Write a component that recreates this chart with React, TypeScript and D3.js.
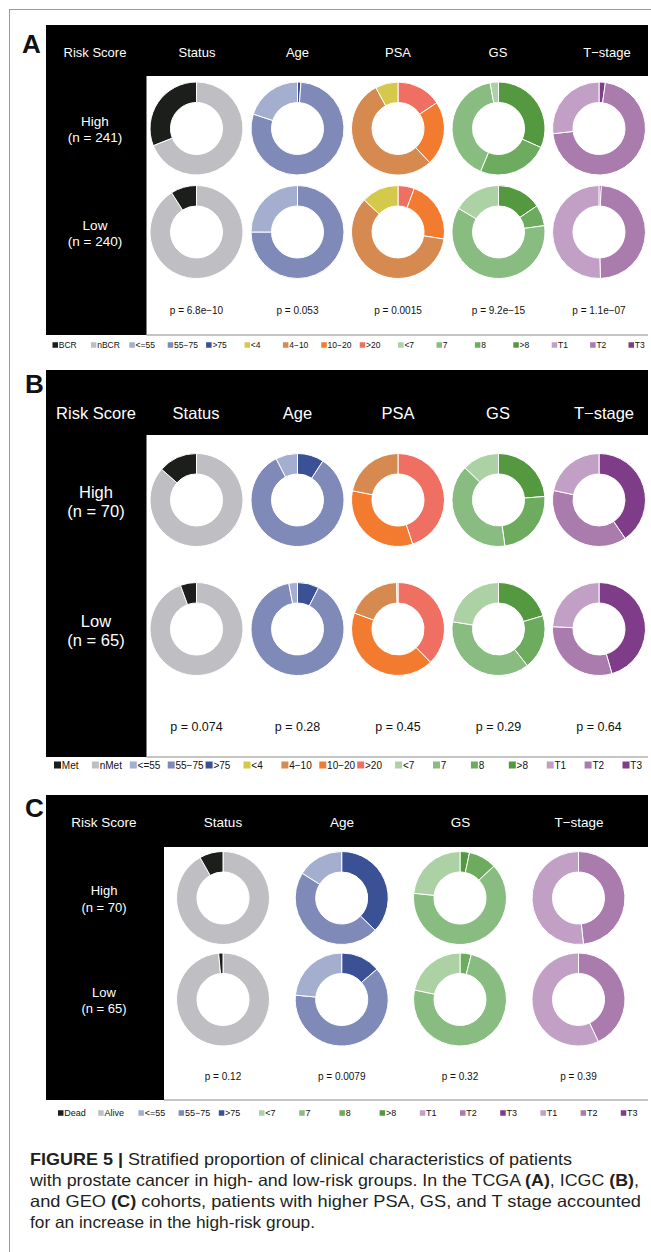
import React from "react";
import * as d3 from "d3";

// ---------- data ----------
const statusColors = ["#1c1e1b", "#bfbfc3"];
const ageColors = ["#a4aece", "#7f8ab8", "#3b5196"];
const psaColors = ["#d5c94b", "#d78a50", "#f27b30", "#ef6f63"];
const gsColors = ["#acd1a4", "#88bc80", "#6dab5e", "#54993f"];
const tColors = ["#c2a0c6", "#aa7bad", "#7f3c88"];

const headersAB = ["Risk Score", "Status", "Age", "PSA", "GS", "T\u2212stage"];
const headersC = ["Risk Score", "Status", "Age", "GS", "T\u2212stage"];

const legendA = ["BCR", "nBCR", "<=55", "55\u221275", ">75", "<4", "4\u221210", "10\u221220", ">20", "<7", "7", "8", ">8", "T1", "T2", "T3"];
const legendB = ["Met", "nMet", "<=55", "55\u221275", ">75", "<4", "4\u221210", "10\u221220", ">20", "<7", "7", "8", ">8", "T1", "T2", "T3"];
const legendC = ["Dead", "Alive", "<=55", "55\u221275", ">75", "<7", "7", "8", ">8", "T1", "T2", "T3", "T1", "T2", "T3"];

// proportions in level order (status, age, psa, gs, t-stage)
const tcgaHigh = [[0.31, 0.69], [0.2, 0.788, 0.012], [0.079, 0.54, 0.224, 0.157], [0.029, 0.408, 0.246, 0.317], [0.268, 0.71, 0.022]];
const tcgaLow = [[0.09, 0.91], [0.25, 0.75, 0], [0.129, 0.597, 0.217, 0.057], [0.165, 0.607, 0.073, 0.155], [0.505, 0.487, 0.008]];
const icgcHigh = [[0.135, 0.865], [0.076, 0.832, 0.092], [0, 0.218, 0.333, 0.449], [0.128, 0.394, 0.24, 0.238], [0.217, 0.378, 0.405]];
const icgcLow = [[0.056, 0.944], [0.03, 0.895, 0.075], [0.005, 0.189, 0.429, 0.377], [0.225, 0.381, 0.19, 0.204], [0.242, 0.303, 0.455]];
const geoHigh = [[0.082, 0.918], [0.161, 0.467, 0.372], [0.234, 0.637, 0.097, 0.033], [0.517, 0.483, 0]];
const geoLow = [[0.015, 0.985], [0.235, 0.628, 0.137], [0.217, 0.744, 0.039, 0], [0.57, 0.43, 0]];

const tcgaP = ["p = 6.8e\u221210", "p = 0.053", "p = 0.0015", "p = 9.2e\u221215", "p = 1.1e\u221207"];
const icgcP = ["p = 0.074", "p = 0.28", "p = 0.45", "p = 0.29", "p = 0.64"];
const geoP = ["p = 0.12", "p = 0.0079", "p = 0.32", "p = 0.39"];

const tcgaN = ["241", "240"];
const icgcN = ["70", "65"];
const geoN = ["70", "65"];

const colorsAB = [statusColors, ageColors, psaColors, gsColors, tColors];
const colorsC = [statusColors, ageColors, gsColors, tColors];

const FONT = "'Liberation Sans', Arial, Helvetica, sans-serif";

// ---------- components ----------
const pie = d3.pie<number>().sort(null).value((d) => d);
const arc = d3.arc<d3.PieArcDatum<number>>().innerRadius(26).outerRadius(46.5);

function Donut({ cx, cy, values, colors }: { cx: number; cy: number; values: number[]; colors: string[] }) {
  // drawn clockwise from 12 o'clock in reverse level order
  const idx = values.map((_, i) => i).reverse();
  const arcs = pie(idx.map((i) => values[i]));
  return (
    <g transform={`translate(${cx},${cy})`}>
      {arcs.map((a, k) =>
        a.data > 0 ? (
          <path key={k} d={arc(a) || ""} fill={colors[idx[k]]} stroke="#ffffff" strokeWidth={1} />
        ) : null
      )}
    </g>
  );
}

type PanelCfg = {
  letter: string;
  letterY: number;
  top: number;
  headerBottom: number;
  bottom: number;
  colRight: number;
  headers: string[];
  headerX: number[];
  headerY: number;
  headerFont: number;
  donutX: number[];
  rowY: number[];
  labelX: number;
  labelFont: number;
  labelGap: number;
  nVals: string[];
  high: number[][];
  low: number[][];
  colors: string[][];
  pVals: string[];
  pY: number;
  pFont: number;
  legend: string[];
  legendColors: string[];
  legendY: number;
  legendX0: number;
  legendStep: number;
  legendFont: number;
  legendSq: number;
};

function Panel({ c }: { c: PanelCfg }) {
  const right = 648;
  const legendScale = d3.scaleLinear().domain([0, 1]).range([c.legendX0, c.legendX0 + c.legendStep]);
  return (
    <g fontFamily={FONT}>
      <text x={c.letter === "A" ? 22 : 25} y={c.letterY} fontSize={26} fontWeight="bold" fill="#111">
        {c.letter}
      </text>
      <rect x={46} y={c.top} width={right - 46} height={c.headerBottom - c.top} fill="#000" />
      <rect x={46} y={c.top} width={c.colRight - 46} height={c.bottom - c.top} fill="#000" />
      <line x1={c.colRight} x2={right} y1={c.bottom} y2={c.bottom} stroke="#8a8a8a" strokeWidth={1} />
      {c.headers.map((h, i) => (
        <text key={h} x={c.headerX[i]} y={c.headerY} fontSize={c.headerFont} fill="#fff" textAnchor="middle" dominantBaseline="central">
          {h}
        </text>
      ))}
      {["High", "Low"].map((lab, r) => (
        <g key={lab}>
          <text x={c.labelX} y={c.rowY[r] - c.labelGap / 2 + 1} fontSize={c.labelFont} fill="#fff" textAnchor="middle" dominantBaseline="central">
            {lab}
          </text>
          <text x={c.labelX} y={c.rowY[r] + c.labelGap / 2 + 1} fontSize={c.labelFont} fill="#fff" textAnchor="middle" dominantBaseline="central">
            {`(n = ${c.nVals[r]})`}
          </text>
        </g>
      ))}
      {c.high.map((v, i) => (
        <Donut key={"h" + i} cx={c.donutX[i]} cy={c.rowY[0]} values={v} colors={c.colors[i]} />
      ))}
      {c.low.map((v, i) => (
        <Donut key={"l" + i} cx={c.donutX[i]} cy={c.rowY[1]} values={v} colors={c.colors[i]} />
      ))}
      {c.pVals.map((p, i) => (
        <text key={"p" + i} x={c.donutX[i]} y={c.pY} fontSize={c.pFont} fill="#111" textAnchor="middle" dominantBaseline="central">
          {p}
        </text>
      ))}
      {c.legend.map((l, i) => {
        const x = legendScale(i);
        return (
          <g key={"lg" + i}>
            <rect x={x} y={c.legendY - c.legendSq / 2} width={c.legendSq} height={c.legendSq} fill={c.legendColors[i]} />
            <text x={x + c.legendSq + 0.8} y={c.legendY} fontSize={c.legendFont} fill="#111" dominantBaseline="central">
              {l}
            </text>
          </g>
        );
      })}
    </g>
  );
}

const donutXAB = [196.5, 297.5, 398, 498.5, 599];
const donutXC = [223, 341.7, 460, 578.5];

const panelA: PanelCfg = {
  letter: "A", letterY: 53, top: 25, headerBottom: 76, bottom: 335, colRight: 146.5,
  headers: headersAB, headerX: [95, 197, 297.5, 398, 498, 607], headerY: 52, headerFont: 13,
  donutX: donutXAB, rowY: [128.5, 232], labelX: 95, labelFont: 13.5, labelGap: 16, nVals: tcgaN,
  high: tcgaHigh, low: tcgaLow, colors: colorsAB, pVals: tcgaP, pY: 310, pFont: 10,
  legend: legendA, legendColors: [...statusColors, ...ageColors, ...psaColors, ...gsColors, ...tColors],
  legendY: 345, legendX0: 52.5, legendStep: 38.4, legendFont: 8.5, legendSq: 5.5,
};

const panelB: PanelCfg = {
  letter: "B", letterY: 393, top: 370, headerBottom: 435, bottom: 757, colRight: 146.5,
  headers: headersAB, headerX: [96, 196, 297.5, 398, 498, 604], headerY: 413, headerFont: 16.5,
  donutX: donutXAB, rowY: [500, 629], labelX: 96, labelFont: 16.5, labelGap: 19, nVals: icgcN,
  high: icgcHigh, low: icgcLow, colors: colorsAB, pVals: icgcP, pY: 727, pFont: 12.5,
  legend: legendB, legendColors: [...statusColors, ...ageColors, ...psaColors, ...gsColors, ...tColors],
  legendY: 765, legendX0: 54, legendStep: 37.9, legendFont: 10, legendSq: 7,
};

const panelC: PanelCfg = {
  letter: "C", letterY: 817, top: 795, headerBottom: 847, bottom: 1100, colRight: 164,
  headers: headersC, headerX: [104, 223, 342, 460.6, 579], headerY: 822, headerFont: 13.5,
  donutX: donutXC, rowY: [898, 999.5], labelX: 104, labelFont: 13, labelGap: 16.5, nVals: geoN,
  high: geoHigh, low: geoLow, colors: colorsC, pVals: geoP, pY: 1076, pFont: 10,
  legend: legendC, legendColors: [...statusColors, ...ageColors, ...gsColors, ...tColors, ...tColors],
  legendY: 1113, legendX0: 58, legendStep: 40.2, legendFont: 9, legendSq: 5.5,
};

export default function App() {
  const capFill = "#231f20";
  return (
    <svg
      width={651}
      height={1252}
      viewBox="0 0 651 1252"
      style={{ position: "absolute", left: 0, top: 0, background: "#fff" }}
    >
      <rect x={0} y={0} width={651} height={1252} fill="#fff" />
      <line x1={9.5} y1={9} x2={9.5} y2={1252} stroke="#9a9a9a" strokeWidth={1} />
      <line x1={9} y1={9.5} x2={651} y2={9.5} stroke="#9a9a9a" strokeWidth={1} />
      <Panel c={panelA} />
      <Panel c={panelB} />
      <Panel c={panelC} />
      <g fontFamily={FONT} fontSize={16.5} fill={capFill}>
        <text x={30} y={1165} textLength={542} lengthAdjust="spacingAndGlyphs">
          <tspan fontWeight="bold">FIGURE 5 |</tspan> Stratified proportion of clinical characteristics of patients
        </text>
        <text x={30} y={1186} textLength={609} lengthAdjust="spacingAndGlyphs">
          with prostate cancer in high- and low-risk groups. In the TCGA <tspan fontWeight="bold">(A)</tspan>, ICGC <tspan fontWeight="bold">(B)</tspan>,
        </text>
        <text x={30} y={1207} textLength={611} lengthAdjust="spacingAndGlyphs">
          and GEO <tspan fontWeight="bold">(C)</tspan> cohorts, patients with higher PSA, GS, and T stage accounted
        </text>
        <text x={30} y={1228} textLength={285} lengthAdjust="spacingAndGlyphs">
          for an increase in the high-risk group.
        </text>
      </g>
    </svg>
  );
}
